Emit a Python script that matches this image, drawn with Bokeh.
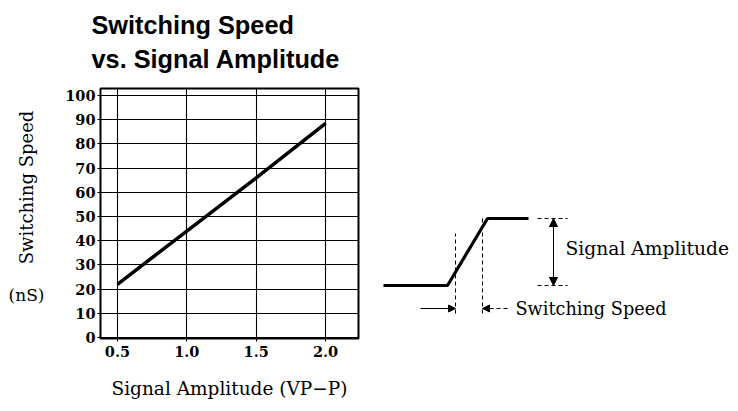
import math
from bokeh.plotting import figure
from bokeh.layouts import row, column
from bokeh.models import Range1d, FixedTicker, Arrow, NormalHead
from bokeh.core.properties import value
from bokeh.embed import file_html
from bokeh.resources import INLINE

# ---- data ----
amplitude = [0.5, 1.0, 1.5, 2.0]          # Vp-p
speed = [22, 44, 66, 88.5]                # nS
x_ticks = [0.5, 1.0, 1.5, 2.0]
x_tick_labels = ["0.5", "1.0", "1.5", "2.0"]
y_ticks = [0, 10, 20, 30, 40, 50, 60, 70, 80, 90, 100]

title_lines = ["Switching Speed", "vs. Signal Amplitude"]
y_title = "Switching Speed"
y_unit = "(nS)"
x_title = "Signal Amplitude (VP−P)"

# schematic of a switching edge (time, level)
wave_t = [3, 67, 107, 148]
wave_v = [118, 118, 185, 185]
low_level, high_level = 118, 185
t_start, t_end = 75, 102

SERIF = "DejaVu Serif"
SANS = "Liberation Sans"


def blank(fig):
    fig.xgrid.visible = False
    fig.ygrid.visible = False
    fig.outline_line_color = None
    fig.background_fill_color = "white"
    fig.border_fill_color = "white"
    return fig


# ---- title strip ----
top = blank(figure(width=730, height=80, output_backend="svg", toolbar_location=None,
                   title=None, x_range=Range1d(0, 730), y_range=Range1d(0, 80), min_border=0,
                   x_axis_type=None, y_axis_type=None))
top.text(x=[91, 91], y=[56, 22], text=title_lines, text_font=value(SANS),
         text_font_style="bold", text_font_size="25.3px", text_baseline="alphabetic",
         text_align="left", text_color="black")

# ---- left label strip (its frame is aligned with the chart frame) ----
left = blank(figure(width=62, height=323, output_backend="svg", toolbar_location=None,
                    title=None, x_range=Range1d(0, 62), y_range=Range1d(65, 315),
                    min_border=0, x_axis_type=None, y_axis_type=None))
left.text(x=[26], y=[216], text=[y_title], angle=math.pi / 2, text_font=value(SERIF),
          text_font_size="18px", text_align="center", text_baseline="middle",
          text_color="black")
left.text(x=[26], y=[109], text=[y_unit], text_font=value(SERIF),
          text_font_size="17px", text_align="center", text_baseline="middle",
          text_color="black")

# ---- main chart ----
p = figure(width=318, height=323, output_backend="svg", toolbar_location=None,
           title=None, x_range=Range1d(0.378, 2.237), y_range=Range1d(-0.4, 102.9),
           min_border_left=38, min_border_right=22, min_border_top=8,
           min_border_bottom=65)
p.line(amplitude, speed, line_width=3.5, line_color="black")

for ax in (p.xaxis[0], p.yaxis[0]):
    ax.axis_line_color = None
    ax.major_tick_out = 3
    ax.major_tick_in = 0
    ax.minor_tick_out = 0
    ax.minor_tick_in = 0
    ax.major_tick_line_color = "black"
    ax.major_label_text_font = SERIF
    ax.major_label_text_font_style = "bold"
    ax.major_label_text_font_size = "14.5px"
    ax.major_label_text_color = "black"

p.xaxis.ticker = FixedTicker(ticks=x_ticks)
p.xaxis.major_label_overrides = {t: l for t, l in zip(x_ticks, x_tick_labels)}
p.xaxis.major_label_standoff = 4
p.xaxis.axis_label = x_title
p.xaxis.axis_label_text_font = SERIF
p.xaxis.axis_label_text_font_style = "normal"
p.xaxis.axis_label_text_font_size = "18.5px"
p.xaxis.axis_label_text_color = "black"
p.xaxis.axis_label_standoff = 18
p.yaxis.ticker = FixedTicker(ticks=y_ticks)
p.yaxis.major_label_standoff = 2

p.xgrid.ticker = FixedTicker(ticks=x_ticks)
p.ygrid.ticker = FixedTicker(ticks=y_ticks)
for g in (p.xgrid[0], p.ygrid[0]):
    g.grid_line_color = "black"
    g.grid_line_width = 1.1
p.outline_line_color = "black"
p.outline_line_width = 2
p.background_fill_color = "white"
p.border_fill_color = "white"

# ---- schematic (frame aligned with the chart frame) ----
q = blank(figure(width=350, height=323, output_backend="svg", toolbar_location=None,
                 title=None, x_range=Range1d(0, 350), y_range=Range1d(65, 315),
                 min_border=0, x_axis_type=None, y_axis_type=None))
q.line(wave_t, wave_v, line_width=3.2, line_color="black")
q.segment(x0=[t_start, t_end], y0=[90, 90], x1=[t_start, t_end], y1=[170, high_level],
          line_dash="4 3", line_color="black", line_width=1)
q.segment(x0=[157, 157], y0=[low_level, high_level], x1=[187, 187], y1=[low_level, high_level],
          line_dash="4 3", line_color="black", line_width=1)
q.add_layout(Arrow(x_start=173, y_start=low_level, x_end=173, y_end=high_level,
                   start=NormalHead(size=8, fill_color="black", line_color="black"),
                   end=NormalHead(size=8, fill_color="black", line_color="black"),
                   line_width=1, line_color="black"))
q.add_layout(Arrow(x_start=40, y_start=95, x_end=t_start, y_end=95,
                   end=NormalHead(size=7, fill_color="black", line_color="black"),
                   line_width=1, line_color="black"))
q.add_layout(Arrow(x_start=127, y_start=95, x_end=t_end, y_end=95,
                   end=NormalHead(size=7, fill_color="black", line_color="black"),
                   line_width=1, line_color="black", line_dash="4 3"))
q.text(x=[185], y=[155], text=["Signal Amplitude"], text_font=value(SERIF),
       text_font_size="18.7px", text_baseline="middle", text_align="left", text_color="black")
q.text(x=[135], y=[95], text=["Switching Speed"], text_font=value(SERIF),
       text_font_size="17.7px", text_baseline="middle", text_align="left", text_color="black")

layout = column(top, row(left, p, q))
open("out.html", "w").write(file_html(layout, INLINE))
